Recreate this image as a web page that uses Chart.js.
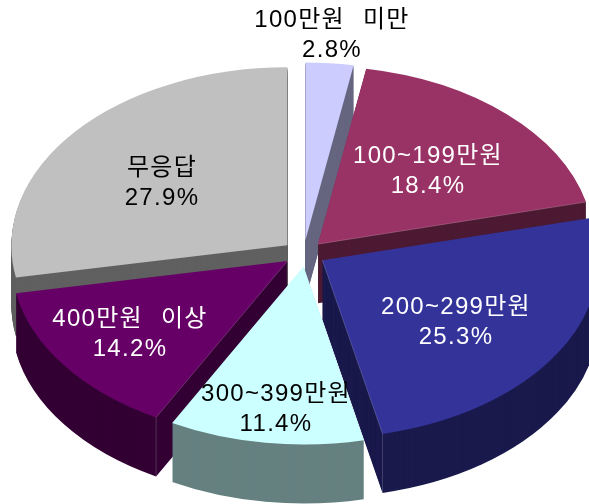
<!DOCTYPE html>
<html><head><meta charset="utf-8">
<style>html,body{margin:0;padding:0;background:#fff}canvas{display:block}</style>
<script src="https://cdn.jsdelivr.net/npm/chart.js"></script>
</head><body>
<canvas id="c" width="589" height="504"></canvas>
<script>
const categories = ['100만원 미만','100~199만원','200~299만원','300~399만원','400만원 이상','무응답'];
const values = [2.8,18.4,25.3,11.4,14.2,27.9];
const valueLabels = ['2.8%','18.4%','25.3%','11.4%','14.2%','27.9%'];
const topColors = ['#ccccff','#993366','#333399','#ccffff','#660066','#c0c0c0'];
const sideColors = ['#666680','#4d1a33','#1a1a4d','#668080','#330033','#606060'];
const textColors = ['#000','#fff','#fff','#000','#fff','#000'];

const RADIUS = 276, TILT = 0.645, DEPTH = 59, EXPLODE = 21, CY = 254;
const paintOrder = [5,0,1,2,4,3];
const nudges = [[0,0],[0,0],[1,-1],[3,-1],[1,-1],[0,0]];
const ridgeEdges = [null,'endAngle','endAngle',null,'startAngle',null];
const labelAnchors = [[332,20],[428,156],[456,307],[276,394],[130,319],[162,168]];
const LINE_GAP = 30;

const pie3d = {
  id:'pie3d',
  beforeDatasetDraw(){ return false; },
  afterDatasetsDraw(chart){
    const ctx = chart.ctx, arcs = chart.getDatasetMeta(0).data;
    const paint = (arc, i, color, dy) => {
      const saved = arc.options;
      arc.options = Object.assign({}, saved, {backgroundColor:color, borderWidth:0, offset:0});
      const mid = (arc.startAngle + arc.endAngle)/2;
      ctx.save();
      ctx.translate(nudges[i][0], CY + dy + nudges[i][1]);
      ctx.scale(1, TILT);
      ctx.translate(Math.cos(mid)*EXPLODE, -CY + Math.sin(mid)*EXPLODE);
      arc.draw(ctx);
      ctx.restore();
      arc.options = saved;
    };
    const ridge = (arc, i) => {
      if (!ridgeEdges[i]) return;
      const mid = (arc.startAngle + arc.endAngle)/2, a = arc[ridgeEdges[i]];
      const ax = arc.x + Math.cos(mid)*EXPLODE + nudges[i][0];
      const ay = CY + TILT*Math.sin(mid)*EXPLODE + nudges[i][1];
      const bx = ax + Math.cos(a)*RADIUS, by = ay + TILT*Math.sin(a)*RADIUS;
      ctx.save();
      ctx.strokeStyle = 'rgba(255,255,255,0.18)';
      ctx.lineWidth = 1;
      ctx.beginPath();
      ctx.moveTo(ax, ay); ctx.lineTo(bx, by);
      if (ridgeEdges[i] === 'startAngle' || i === 2) ctx.lineTo(bx, by + DEPTH);
      ctx.stroke();
      ctx.restore();
    };
    paintOrder.forEach(i => {
      for (let d = DEPTH; d > 0; d--) paint(arcs[i], i, sideColors[i], d);
      paint(arcs[i], i, topColors[i], 0);
      ridge(arcs[i], i);
    });
    ctx.save();
    ctx.font = '24px "Liberation Sans","Noto Sans CJK KR",sans-serif';
    ctx.letterSpacing = '1.3px';
    ctx.wordSpacing = '10px';
    ctx.textAlign = 'center'; ctx.textBaseline = 'middle';
    categories.forEach((name,i) => {
      const [x,y] = labelAnchors[i];
      ctx.fillStyle = textColors[i];
      ctx.fillText(name, x, y);
      ctx.fillText(valueLabels[i], x, y + LINE_GAP);
    });
    ctx.restore();
  }
};

new Chart(document.getElementById('c'), {
  type:'pie',
  data:{labels:categories,datasets:[{data:values,backgroundColor:topColors,borderWidth:0,radius:RADIUS}]},
  options:{
    responsive:false,animation:false,events:[],
    layout:{padding:{left:18,top:4}},
    plugins:{legend:{display:false},tooltip:{enabled:false}}
  },
  plugins:[pie3d]
});
</script>
</body></html>
